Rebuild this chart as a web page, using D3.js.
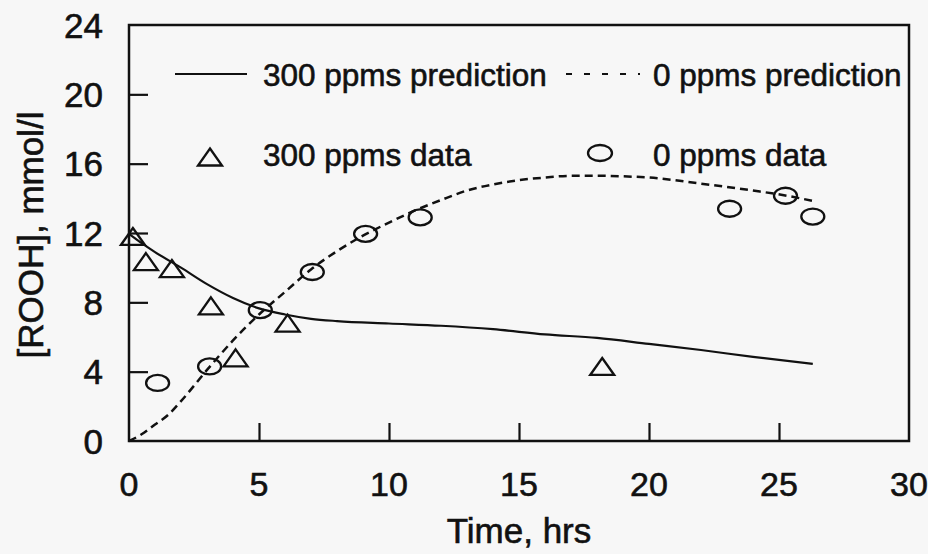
<!DOCTYPE html>
<html>
<head>
<meta charset="utf-8">
<script src="https://cdn.jsdelivr.net/npm/d3@7"></script>
<style>
  html, body { margin: 0; padding: 0; background: #f7f7f7; }
  svg { display: block; }
  text { font-family: "Liberation Sans", Arial, Helvetica, sans-serif; fill: #111; stroke: #111; stroke-width: 0.6px; }
</style>
</head>
<body>
<svg id="chart" width="928" height="554"></svg>
<script>
// ---- data ----
const xTicks = [0, 5, 10, 15, 20, 25, 30];
const yTicks = [0, 4, 8, 12, 16, 20, 24];

const data300X = [0.15, 0.65, 1.65, 3.15, 4.1, 6.1, 18.2];
const data300Y = [11.8, 10.35, 9.95, 7.8, 4.8, 6.8, 4.3];

const data0X = [1.1, 3.1, 5.05, 7.05, 9.1, 11.2, 23.1, 25.25, 26.3];
const data0Y = [3.35, 4.3, 7.55, 9.75, 11.95, 12.9, 13.4, 14.15, 12.95];

const pred300X = [0, 0.5, 1, 2, 3, 4, 5, 6, 7, 8, 10, 12, 14, 16, 18, 20, 22, 24, 26.3];
const pred300Y = [11.95, 11.4, 10.9, 10.0, 9.05, 8.25, 7.65, 7.3, 7.05, 6.92, 6.78, 6.65, 6.45, 6.15, 5.95, 5.6, 5.25, 4.85, 4.45];

const pred0X = [0, 0.5, 1, 1.5, 2, 3, 4, 5, 6, 7, 8, 9, 10, 11, 12, 13, 14, 15, 16, 17, 18, 19, 20, 22, 24, 25.3, 26.3];
const pred0Y = [0, 0.4, 0.95, 1.5, 2.3, 4.1, 5.8, 7.3, 8.6, 9.9, 10.95, 11.85, 12.6, 13.3, 13.9, 14.45, 14.8, 15.05, 15.2, 15.3, 15.3, 15.27, 15.2, 14.85, 14.45, 14.15, 13.85];

const legendLabels = ["300 ppms prediction", "0 ppms prediction", "300 ppms data", "0 ppms data"];
const xTitle = "Time, hrs";
const yTitle = "[ROOH], mmol/l";

// ---- layout ----
const svg = d3.select("#chart");
const x = d3.scaleLinear().domain([0, 30]).range([129, 909]);
const y = d3.scaleLinear().domain([0, 24]).range([441, 25]);
const ink = "#111";

// frame
svg.append("rect")
  .attr("x", x(0)).attr("y", y(24))
  .attr("width", x(30) - x(0)).attr("height", y(0) - y(24))
  .attr("fill", "none").attr("stroke", ink).attr("stroke-width", 2.5);

// axes (ticks inward)
const xAxis = d3.axisBottom(x).tickValues(xTicks.slice(1, -1)).tickSize(-18).tickFormat("");
svg.append("g").attr("transform", `translate(0,${y(0)})`).call(xAxis)
  .call(g => g.select(".domain").remove())
  .call(g => g.selectAll("line").attr("stroke", ink).attr("stroke-width", 2.2));

const yAxis = d3.axisLeft(y).tickValues(yTicks.slice(1, -1)).tickSize(-19).tickFormat("");
svg.append("g").attr("transform", `translate(${x(0)},0)`).call(yAxis)
  .call(g => g.select(".domain").remove())
  .call(g => g.selectAll("line").attr("stroke", ink).attr("stroke-width", 2.2));

// tick labels
svg.append("g").selectAll("text").data(xTicks).join("text")
  .attr("x", d => x(d)).attr("y", 496)
  .attr("text-anchor", "middle").attr("font-size", 34)
  .text(d => d);

svg.append("g").selectAll("text").data(yTicks).join("text")
  .attr("x", 103).attr("y", d => y(d)).attr("dy", "0.36em")
  .attr("text-anchor", "end").attr("font-size", 35)
  .text(d => d);

// axis titles
svg.append("text").attr("x", 519).attr("y", 543)
  .attr("text-anchor", "middle").attr("font-size", 35).text(xTitle);
svg.append("text")
  .attr("transform", `translate(43,${(y(0)+y(24))/2 + 2}) rotate(-90)`)
  .attr("text-anchor", "middle").attr("font-size", 35).text(yTitle);

// prediction curves
const line = d3.line().x(d => x(d[0])).y(d => y(d[1])).curve(d3.curveMonotoneX);
svg.append("path").datum(d3.zip(pred300X, pred300Y))
  .attr("d", line).attr("fill", "none").attr("stroke", ink).attr("stroke-width", 2.2);
svg.append("path").datum(d3.zip(pred0X, pred0Y))
  .attr("d", line).attr("fill", "none").attr("stroke", ink).attr("stroke-width", 2.5)
  .attr("stroke-dasharray", "8,5");

// markers
const triPath = "M0,-8.5L12,8.5L-12,8.5Z";
svg.append("g").selectAll("path").data(d3.zip(data300X, data300Y)).join("path")
  .attr("transform", d => `translate(${x(d[0])},${y(d[1])})`)
  .attr("d", triPath).attr("fill", "none").attr("stroke", ink).attr("stroke-width", 2.3);

svg.append("g").selectAll("ellipse").data(d3.zip(data0X, data0Y)).join("ellipse")
  .attr("cx", d => x(d[0])).attr("cy", d => y(d[1]))
  .attr("rx", 11.5).attr("ry", 8).attr("fill", "none").attr("stroke", ink).attr("stroke-width", 2.3);

// legend
const lg = svg.append("g");
lg.append("line").attr("x1", 175).attr("x2", 247).attr("y1", 74).attr("y2", 74)
  .attr("stroke", ink).attr("stroke-width", 2);
lg.append("text").attr("x", 263).attr("y", 86).attr("font-size", 31.5).text(legendLabels[0]);
lg.append("line").attr("x1", 566).attr("x2", 640).attr("y1", 74).attr("y2", 74)
  .attr("stroke", ink).attr("stroke-width", 2.2).attr("stroke-dasharray", "6,12");
lg.append("text").attr("x", 653).attr("y", 86).attr("font-size", 31.5).text(legendLabels[1]);
lg.append("path").attr("transform", "translate(210,157)").attr("d", triPath)
  .attr("fill", "none").attr("stroke", ink).attr("stroke-width", 2.3);
lg.append("text").attr("x", 263).attr("y", 166).attr("font-size", 31.5).text(legendLabels[2]);
lg.append("ellipse").attr("cx", 600).attr("cy", 153).attr("rx", 12).attr("ry", 8)
  .attr("fill", "none").attr("stroke", ink).attr("stroke-width", 2.3);
lg.append("text").attr("x", 653).attr("y", 166).attr("font-size", 31.5).text(legendLabels[3]);
</script>
</body>
</html>
